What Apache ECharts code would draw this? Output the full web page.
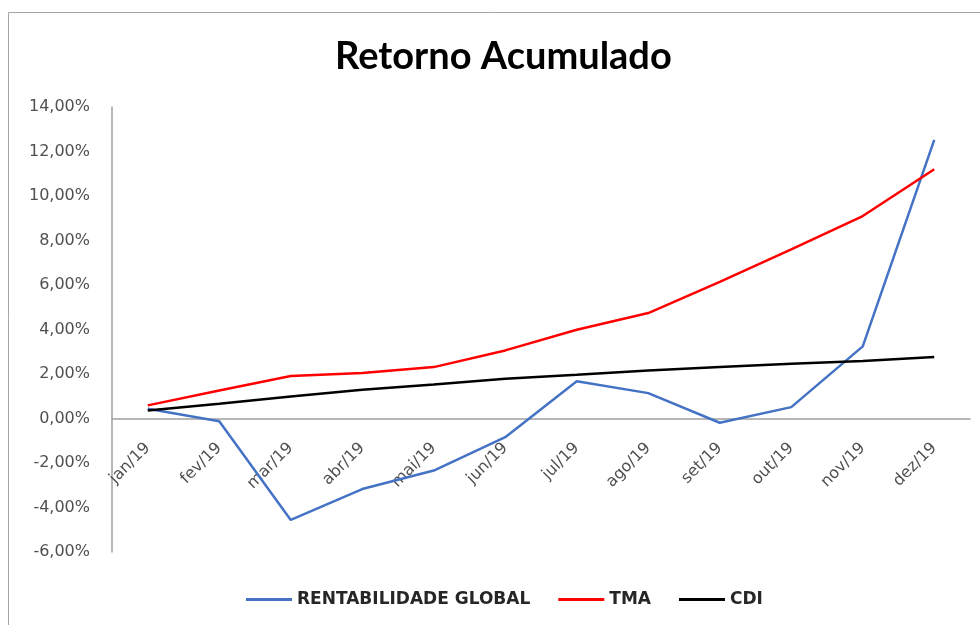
<!DOCTYPE html>
<html>
<head>
<meta charset="utf-8">
<script src="https://cdn.jsdelivr.net/npm/echarts@6/dist/echarts.min.js"></script>
<style>
  html, body { margin: 0; padding: 0; background: #fff; }
  #chart { width: 980px; height: 625px; }
</style>
</head>
<body>
<div id="chart"></div>
<script>
// meses
const months = ['jan/19', 'fev/19', 'mar/19', 'abr/19', 'mai/19', 'jun/19',
                'jul/19', 'ago/19', 'set/19', 'out/19', 'nov/19', 'dez/19'];

// retorno acumulado (%)
const rentabilidadeGlobal = [0.44, -0.12, -4.56, -3.17, -2.34, -0.84, 1.67, 1.14, -0.19, 0.51, 3.24, 12.52];
const tma = [0.59, 1.26, 1.91, 2.04, 2.31, 3.06, 3.99, 4.74, 6.14, 7.60, 9.10, 11.20];
const cdi = [0.36, 0.66, 0.99, 1.29, 1.53, 1.79, 1.97, 2.16, 2.31, 2.46, 2.58, 2.76];

// eixo y
const yMin = -6;
const yMax = 14;
const yStep = 2;

const chart = echarts.init(document.getElementById('chart'));

const gridTop = 107;
const gridBottom = 73;
const plotHeight = 625 - gridTop - gridBottom;
// desloca o eixo x para a linha do zero (rótulos junto com ele)
const zeroOffset = -plotHeight * (0 - yMin) / (yMax - yMin);

const lineSeries = (name, data, color) => ({
  name: name,
  type: 'line',
  data: data,
  symbol: 'none',
  lineStyle: { color: color, width: 2.5 },
  itemStyle: { color: color },
});

chart.setOption({
  animation: false,
  textStyle: { fontFamily: 'DejaVu Sans' },
  graphic: [{
    type: 'rect',
    shape: { x: 8.5, y: 12.5, width: 1000, height: 700 },
    style: { fill: 'none', stroke: '#a6a6a6', lineWidth: 1 },
    silent: true,
  }],
  title: {
    text: 'Retorno Acumulado',
    left: 330,
    top: 33,
    textStyle: { fontFamily: 'Lato', fontWeight: 'bold', fontSize: 38, color: '#000' },
  },
  legend: {
    top: 586,
    left: 241,
    itemWidth: 46,
    itemHeight: 3,
    itemGap: 28,
    icon: 'rect',
    textStyle: { fontFamily: 'DejaVu Sans', fontWeight: 'bold', fontSize: 17, color: '#262626' },
  },
  grid: { left: 112, right: 10, top: gridTop, bottom: gridBottom },
  xAxis: {
    type: 'category',
    data: months,
    boundaryGap: true,
    offset: zeroOffset,
    axisLine: { onZero: false, lineStyle: { color: '#a0a0a0', width: 1.5 } },
    axisTick: { show: false },
    axisLabel: { rotate: 45, fontSize: 16, color: '#505050', margin: 27, fontFamily: 'DejaVu Sans' },
  },
  yAxis: {
    type: 'value',
    min: yMin,
    max: yMax,
    interval: yStep,
    splitLine: { show: false },
    axisLine: { show: true, lineStyle: { color: '#a0a0a0', width: 1.5 } },
    axisTick: { show: false },
    axisLabel: {
      fontSize: 16,
      color: '#505050',
      margin: 22,
      fontFamily: 'DejaVu Sans',
      formatter: v => v.toFixed(2).replace('.', ',') + '%',
    },
  },
  series: [
    lineSeries('RENTABILIDADE GLOBAL', rentabilidadeGlobal, '#4472C4'),
    lineSeries('TMA', tma, '#FF0000'),
    lineSeries('CDI', cdi, '#000000'),
  ],
});
</script>
</body>
</html>
